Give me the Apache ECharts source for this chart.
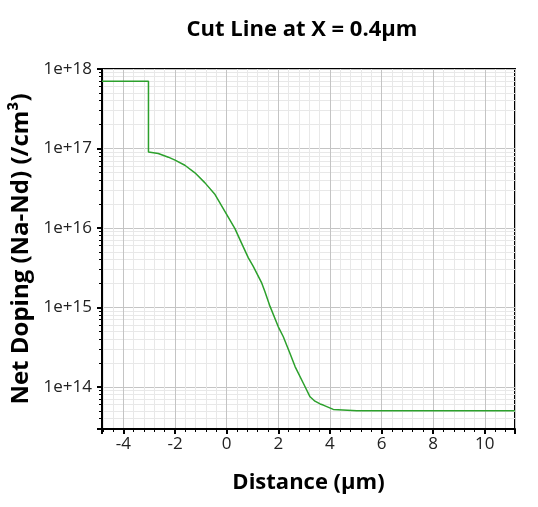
<!DOCTYPE html>
<html><head><meta charset="utf-8">
<script src="https://cdn.jsdelivr.net/npm/echarts@6/dist/echarts.min.js"></script>
<style>html,body{margin:0;padding:0;background:#fff}#c{width:538px;height:507px}</style>
</head><body><div id="c"></div>
<script>
const titleText = 'Cut Line at X = 0.4\u03BCm';
const xName = 'Distance (\u03BCm)';
const yName = 'Net Doping (Na-Nd) (/cm\u00B3)';
const distance = [-4.83, -3.03, -3.03, -2.65, -2.26, -2.0, -1.62, -1.23, -0.84, -0.45, -0.07, 0.32, 0.58, 0.84, 1.03, 1.36, 1.48, 1.68, 2.0, 2.19, 2.45, 2.65, 2.97, 3.23, 3.42, 3.62, 3.74, 4.13, 5.04, 11.17];
const doping = [7e17, 7e17, 9.0e16, 8.65e16, 7.77e16, 7.12e16, 6.15e16, 4.94e16, 3.69e16, 2.63e16, 1.62e16, 9.8e15, 6.4e15, 4.2e15, 3.28e15, 2.02e15, 1.58e15, 1.03e15, 5.7e14, 4.3e14, 2.65e14, 1.8e14, 1.11e14, 7.5e13, 6.6e13, 6.1e13, 5.9e13, 5.2e13, 5.0e13, 5.0e13];
const xRange = [-4.83, 11.17];
const yRange = [2.95e13, 1e18];

const font = '"Open Sans", "Noto Sans", sans-serif';
const chart = echarts.init(document.getElementById('c'), null, {renderer: 'canvas'});
chart.setOption({
  animation: false,
  backgroundColor: '#fff',
  title: {
    text: titleText, left: 297, top: 14, textAlign: 'center',
    textStyle: {fontFamily: font, fontWeight: 'bold', fontSize: 22, color: '#000'}
  },
  grid: {left: 102, right: 23, top: 69, bottom: 78, show: true, borderColor: '#000', borderWidth: 2, containLabel: false},
  xAxis: {
    type: 'value', min: xRange[0], max: xRange[1], splitNumber: 8,
    name: xName, nameLocation: 'middle', nameGap: 43,
    nameTextStyle: {fontFamily: font, fontWeight: 'bold', fontSize: 22, color: '#000'},
    axisLine: {show: true, onZero: false, lineStyle: {color: '#000', width: 2}},
    axisTick: {show: true, inside: false, length: 5, lineStyle: {color: '#000', width: 2}},
    minorTick: {show: true, splitNumber: 5, length: 3, lineStyle: {color: '#000', width: 1}},
    axisLabel: {fontFamily: font, fontSize: 17, color: '#222', margin: 7, showMinLabel: false, showMaxLabel: false},
    splitLine: {show: true, lineStyle: {color: '#c4c4c4', width: 1}},
    minorSplitLine: {show: true, lineStyle: {color: '#e8e8e8', width: 1}}
  },
  yAxis: {
    type: 'log', logBase: 10, min: yRange[0], max: yRange[1],
    name: yName, nameLocation: 'middle', nameGap: 65,
    nameTextStyle: {fontFamily: font, fontWeight: 'bold', fontSize: 24, color: '#000'},
    axisLine: {show: true, onZero: false, lineStyle: {color: '#000', width: 2}},
    axisTick: {show: true, inside: false, length: 5, lineStyle: {color: '#000', width: 2}},
    minorTick: {show: true, splitNumber: 9, length: 3, lineStyle: {color: '#000', width: 1}},
    axisLabel: {fontFamily: font, fontSize: 17, color: '#222', margin: 10, showMinLabel: false,
      formatter: v => '1e+' + Math.round(Math.log10(v))},
    splitLine: {show: true, lineStyle: {color: '#c4c4c4', width: 1}},
    minorSplitLine: {show: true, lineStyle: {color: '#e8e8e8', width: 1}}
  },
  series: [{
    type: 'line', data: distance.map((d, i) => [d, doping[i]]),
    showSymbol: false, symbol: 'none', smooth: false,
    lineStyle: {color: '#2ca02c', width: 1.5}, itemStyle: {color: '#2ca02c'}
  }]
});
</script></body></html>
